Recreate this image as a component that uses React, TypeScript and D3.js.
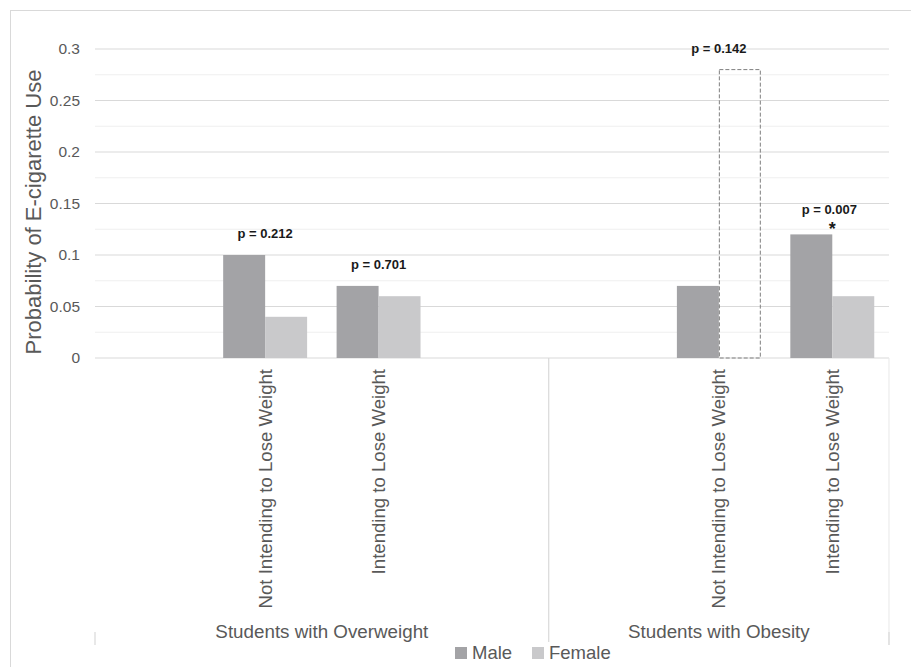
import React from "react";
import { scaleBand, scaleLinear, range } from "d3";

// chart data
const slotIds = ["ow0", "ow1", "ow2", "ow3", "ob0", "ob1", "ob2"];
const slotLabels = ["", "Not Intending to Lose Weight", "Intending to Lose Weight", "", "", "Not Intending to Lose Weight", "Intending to Lose Weight"];
const groups = ["Students with Overweight", "Students with Obesity"];
const groupSizes = [4, 3];
const male = [null, 0.1, 0.07, null, null, 0.07, 0.12];
const female = [null, 0.04, 0.06, null, null, null, 0.06];
const femaleDashed = [null, null, null, null, null, 0.28, null];
const pLabels = ["", "p = 0.212", "p = 0.701", "", "", "p = 0.142", "p = 0.007"];
const starred = [false, false, false, false, false, false, true];
const yTicks = [0, 0.05, 0.1, 0.15, 0.2, 0.25, 0.3];
const yTickLabels = ["0", "0.05", "0.1", "0.15", "0.2", "0.25", "0.3"];
const seriesNames = ["Male", "Female"];

const width = 911;
const height = 667;
const plot = { left: 95, right: 889, top: 49, bottom: 358 };

const MALE = "#a3a3a6";
const FEMALE = "#c9c9cb";
const GRID = "#d9d9d9";
const TEXT = "#595959";
const FONT = "'Liberation Sans', Arial, sans-serif";

const x = scaleBand<string>().domain(slotIds).range([plot.left, plot.right]);
const y = scaleLinear().domain([0, 0.3]).range([plot.bottom, plot.top]);
const barW = x.bandwidth() * 0.37;

export default function App() {
  const minorTicks = range(0.025, 0.3, 0.05);
  // group boundaries
  let acc = 0;
  const bounds = [plot.left];
  groupSizes.forEach((n) => {
    acc += n;
    bounds.push(acc < slotIds.length ? x(slotIds[acc])! : plot.right);
  });

  return (
    <svg
      width={width}
      height={height}
      viewBox={`0 0 ${width} ${height}`}
      style={{ position: "absolute", left: 0, top: 0, background: "white", fontFamily: FONT }}
    >
      {/* chart border */}
      <rect x={10.5} y={10.5} width={width + 20} height={height + 20} fill="none" stroke={GRID} />

      {/* gridlines */}
      {minorTicks.map((t) => (
        <line key={"m" + t} x1={plot.left} x2={plot.right} y1={y(t)} y2={y(t)} stroke="#efefef" />
      ))}
      {yTicks.map((t, i) => (
        <g key={t}>
          <line x1={plot.left} x2={plot.right} y1={y(t)} y2={y(t)} stroke={GRID} strokeWidth={1.2} />
          <text x={80} y={y(t)} dy="0.35em" textAnchor="end" fontSize={15.5} fill={TEXT}>
            {yTickLabels[i]}
          </text>
        </g>
      ))}

      {/* bars */}
      {slotIds.map((id, i) => {
        const cx = x(id)! + x.bandwidth() / 2;
        const m = male[i];
        const f = female[i];
        const fd = femaleDashed[i];
        const top = Math.max(m ?? 0, f ?? 0, fd ?? 0);
        return (
          <g key={id}>
            {m != null && <rect x={cx - barW} y={y(m)} width={barW} height={y(0) - y(m)} fill={MALE} />}
            {f != null && <rect x={cx} y={y(f)} width={barW} height={y(0) - y(f)} fill={FEMALE} />}
            {fd != null && (
              <rect
                x={cx + 0.5}
                y={y(fd)}
                width={barW - 1}
                height={y(0) - y(fd)}
                fill="none"
                stroke="#7f7f7f"
                strokeWidth={1}
                strokeDasharray="4,2"
              />
            )}
            {pLabels[i] && (
              <text x={cx - (starred[i] ? 3 : 0)} y={y(top) - (starred[i] ? 20 : 17)} textAnchor="middle" fontSize={13} fontWeight="bold" fill="#1a1a1a">
                {pLabels[i]}
              </text>
            )}
            {starred[i] && (
              <text x={cx} y={y(top) + 1} textAnchor="middle" fontSize={18} fontWeight="bold" fill="#1a1a1a">
                *
              </text>
            )}
            {slotLabels[i] && (
              <text
                transform={`translate(${cx},369) rotate(-90)`}
                dy="0.35em"
                textAnchor="end"
                fontSize={18.6}
                fill={TEXT}
              >
                {slotLabels[i]}
              </text>
            )}
          </g>
        );
      })}

      {/* group separators */}
      <line x1={bounds[0]} x2={bounds[0]} y1={632} y2={645} stroke={GRID} strokeWidth={1.2} />
      <line x1={bounds[1]} x2={bounds[1]} y1={plot.bottom} y2={642} stroke={GRID} strokeWidth={1.2} />
      <line x1={bounds[2]} x2={bounds[2]} y1={plot.bottom} y2={645} stroke="#ececec" strokeWidth={1.2} />
      <line x1={bounds[2]} x2={bounds[2]} y1={632} y2={645} stroke={GRID} strokeWidth={1.2} />

      {groups.map((g, i) => (
        <text key={g} x={(bounds[i] + bounds[i + 1]) / 2} y={638} textAnchor="middle" fontSize={18.8} fill={TEXT}>
          {g}
        </text>
      ))}

      {/* y title */}
      <text transform="translate(33,212) rotate(-90)" dy="0.35em" textAnchor="middle" fontSize={22} fill={TEXT}>
        Probability of E-cigarette Use
      </text>

      {/* legend */}
      {seriesNames.map((s, i) => (
        <g key={s} transform={`translate(${455 + i * 77},647)`}>
          <rect width={12} height={12} fill={i === 0 ? MALE : FEMALE} />
          <text x={17} y={12} fontSize={18.5} fill={TEXT}>
            {s}
          </text>
        </g>
      ))}
    </svg>
  );
}
